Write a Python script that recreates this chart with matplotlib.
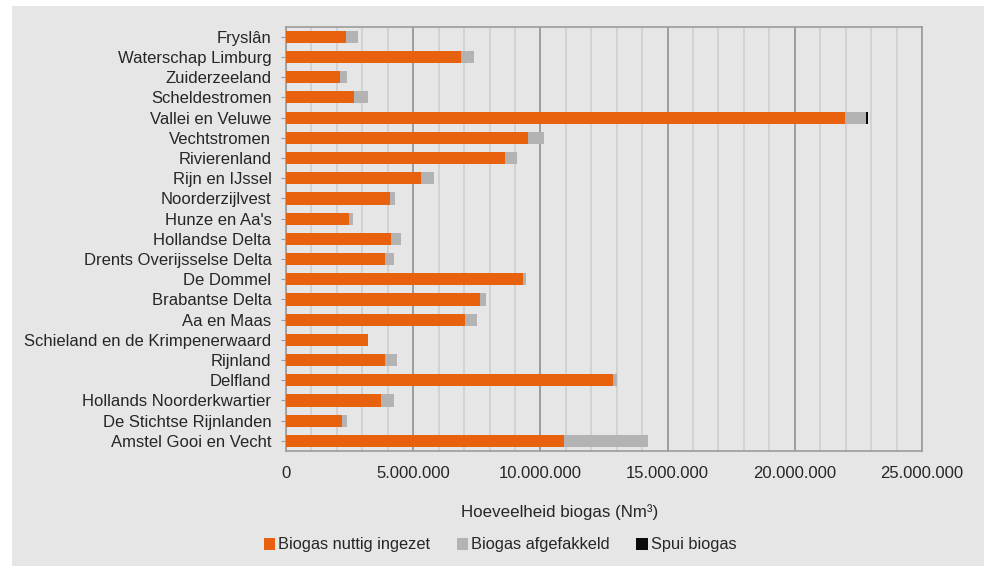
import numpy as np
import matplotlib
matplotlib.use("Agg")
import matplotlib.pyplot as plt
from matplotlib.patches import Rectangle
from matplotlib.ticker import FuncFormatter, MultipleLocator

plt.rcParams['font.family'] = ['Liberation Sans', 'DejaVu Sans']

# waterschappen, top to bottom as in the chart
regions = [
    "Fryslân", "Waterschap Limburg", "Zuiderzeeland", "Scheldestromen",
    "Vallei en Veluwe", "Vechtstromen", "Rivierenland", "Rijn en IJssel",
    "Noorderzijlvest", "Hunze en Aa's", "Hollandse Delta",
    "Drents Overijsselse Delta", "De Dommel", "Brabantse Delta", "Aa en Maas",
    "Schieland en de Krimpenerwaard", "Rijnland", "Delfland",
    "Hollands Noorderkwartier", "De Stichtse Rijnlanden", "Amstel Gooi en Vecht",
]

# Nm3
nuttig = [2.37e6, 6.89e6, 2.14e6, 2.68e6, 21.98e6, 9.50e6, 8.59e6, 5.29e6,
          4.07e6, 2.49e6, 4.11e6, 3.90e6, 9.30e6, 7.61e6, 7.02e6, 3.21e6,
          3.91e6, 12.85e6, 3.75e6, 2.22e6, 10.92e6]
afgefakkeld = [0.45e6, 0.50e6, 0.26e6, 0.55e6, 0.83e6, 0.63e6, 0.50e6, 0.52e6,
               0.21e6, 0.15e6, 0.43e6, 0.35e6, 0.15e6, 0.26e6, 0.50e6, 0.02e6,
               0.44e6, 0.17e6, 0.51e6, 0.18e6, 3.29e6]
spui = [0, 0, 0, 0, 0.07e6, 0, 0, 0, 0, 0, 0, 0, 0, 0, 0, 0, 0, 0, 0, 0, 0]

ORANGE = "#E8610E"
GREY = "#B3B3B3"
BLACK = "#0A0A0A"
PANEL = "#E6E6E6"

W, H = 986, 566
fig = plt.figure(figsize=(W / 100, H / 100), dpi=100)
fig.patch.set_facecolor("white")
fig.patches.append(Rectangle((12 / W, 0), (984 - 12) / W, 1 - 6 / H,
                             transform=fig.transFigure, facecolor=PANEL,
                             edgecolor="none", zorder=-10))

ax = fig.add_axes([286 / W, 1 - 451 / H, (922 - 286) / W, (451 - 26.7) / H])
ax.set_facecolor(PANEL)

y = np.arange(len(regions))
n = np.array(nuttig)
a = np.array(afgefakkeld)
s = np.array(spui)
h = 0.6
ax.barh(y, n, height=h, color=ORANGE, label="Biogas nuttig ingezet", zorder=3)
ax.barh(y, a, left=n, height=h, color=GREY, label="Biogas afgefakkeld", zorder=3)
ax.barh(y, s, left=n + a, height=h, color=BLACK, label="Spui biogas", zorder=3)

ax.set_xlim(0, 25e6)
ax.set_ylim(len(regions) - 0.5, -0.5)
ax.set_yticks(y)
ax.set_yticklabels(regions, fontsize=12, color="#262626")

ax.xaxis.set_major_locator(MultipleLocator(5e6))
ax.xaxis.set_minor_locator(MultipleLocator(1e6))
ax.xaxis.set_major_formatter(FuncFormatter(lambda v, p: f"{int(v):,}".replace(",", ".")))
ax.grid(which="minor", axis="x", color="#CFCFCF", linewidth=1.2, zorder=0)
ax.grid(which="major", axis="x", color="#9C9C9C", linewidth=1.4, zorder=1)
ax.tick_params(axis="x", which="both", length=0, pad=11, labelsize=12, labelcolor="#262626")
ax.tick_params(axis="y", length=3.5, color="#9C9C9C", pad=7)

for sp in ax.spines.values():
    sp.set_color("#9C9C9C")
    sp.set_linewidth(1.2)

ax.set_xlabel("Hoeveelheid biogas (Nm³)", fontsize=12.2, color="#262626")
ax.xaxis.set_label_coords((560 - 286) / (922 - 286), -0.125)

fig.legend(loc="center", bbox_to_anchor=(500 / W, 1 - 545 / H), ncol=3,
           frameon=False, fontsize=11.8, handlelength=0.7, handleheight=0.7,
           handletextpad=0.2, columnspacing=1.6, labelcolor="#262626")

fig.savefig("out.png", dpi=100, facecolor=fig.get_facecolor())
